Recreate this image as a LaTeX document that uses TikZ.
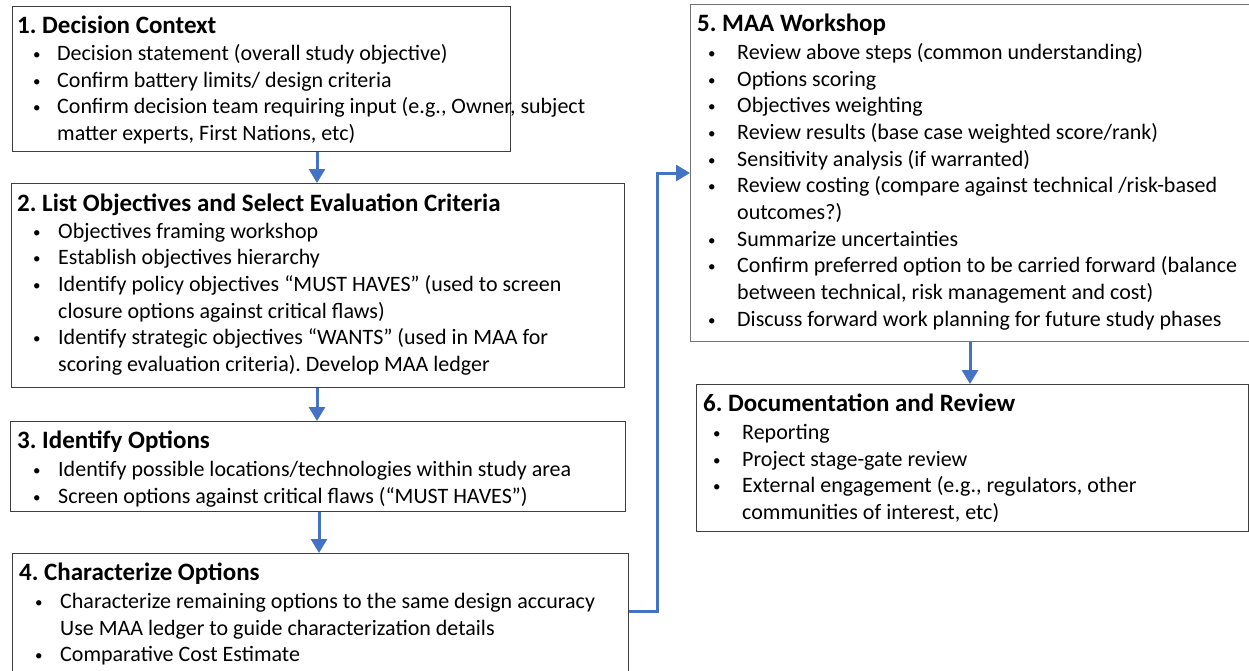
\documentclass[tikz,border=0pt]{standalone}
\usepackage{fontspec}
\setmainfont{Carlito}
\usetikzlibrary{arrows.meta}
\definecolor{arrblue}{HTML}{4472C4}
\definecolor{boxline}{HTML}{3F3F3F}
\frenchspacing
\tikzset{
  box/.style={draw=boxline, line width=1.1pt, rectangle, inner sep=0pt, anchor=north west},
  ttl/.style={anchor=base west, inner sep=0pt, font=\fontsize{25}{27}\selectfont\bfseries},
  txt/.style={anchor=base west, inner sep=0pt, font=\fontsize{22}{27}\selectfont},
  bul/.style={anchor=base west, inner sep=0pt, font=\fontsize{15}{27}\selectfont},
  arr/.style={draw=arrblue, line width=3pt, -{Triangle[width=16pt,length=14pt]}}
}
\newcommand\ttlline[4]{\node[ttl] (#1) at (#2,#3) {#4};}
\newcommand\itmline[5]{\node[bul] (#1b) at (#2,#4-1) {•}; \node[txt] (#1) at (#3,#4) {#5};}
\newcommand\cntline[4]{\node[txt] (#1) at (#2,#3) {#4};}
\begin{document}
\begin{tikzpicture}[x=1pt,y=-1pt]
\useasboundingbox (0,0) rectangle (1249,670);
% boxes
\node[box, minimum width=498pt, minimum height=145pt] (b1) at (12,6) {};
\node[box, minimum width=613pt, minimum height=204pt] (b2) at (11,183) {};
\node[box, minimum width=615pt, minimum height=90pt] (b3) at (10,421) {};
\node[box, minimum width=616pt, minimum height=130pt] (b4) at (12,553) {};
\node[box, draw=black!55, minimum width=570pt, minimum height=337pt] (b5) at (690,4) {};
\node[box, minimum width=552pt, minimum height=147pt] (b6) at (696,384) {};
% box 1
\ttlline{t1}{17}{33}{1. Decision Context}
\itmline{l1a}{33}{57}{60}{Decision statement (overall study objective)}
\itmline{l1b}{33}{57}{87}{Confirm battery limits/ design criteria}
\itmline{l1c}{33}{57}{113}{Confirm decision team requiring input (e.g., Owner, subject}
\cntline{l1d}{57}{140}{matter experts, First Nations, etc)}
% box 2
\ttlline{t2}{17}{211}{2. List Objectives and Select Evaluation Criteria}
\itmline{l2a}{33}{58}{238}{Objectives framing workshop}
\itmline{l2b}{33}{58}{264.7}{Establish objectives hierarchy}
\itmline{l2c}{33}{58}{291.4}{Identify policy objectives “MUST HAVES” (used to screen}
\cntline{l2d}{58}{318}{closure options against critical flaws)}
\itmline{l2e}{33}{58}{344.8}{Identify strategic objectives “WANTS” (used in MAA for}
\cntline{l2f}{58}{371.5}{scoring evaluation criteria). Develop MAA ledger}
% box 3
\ttlline{t3}{17}{448}{3. Identify Options}
\itmline{l3a}{33}{58}{476}{Identify possible locations/technologies within study area}
\itmline{l3b}{33}{58}{503}{Screen options against critical flaws (“MUST HAVES”)}
% box 4
\ttlline{t4}{19}{580}{4. Characterize Options}
\itmline{l4a}{35}{60}{608}{Characterize remaining options to the same design accuracy}
\cntline{l4b}{60}{635}{Use MAA ledger to guide characterization details}
\itmline{l4c}{35}{60}{661}{Comparative Cost Estimate}
% box 5
\ttlline{t5}{697}{31}{5. MAA Workshop}
\itmline{l5a}{708}{737}{59}{Review above steps (common understanding)}
\itmline{l5b}{708}{737}{86}{Options scoring}
\itmline{l5c}{708}{737}{112}{Objectives weighting}
\itmline{l5d}{708}{737}{139}{Review results (base case weighted score/rank)}
\itmline{l5e}{708}{737}{166}{Sensitivity analysis (if warranted)}
\itmline{l5f}{708}{737}{192}{Review costing (compare against technical /risk-based}
\cntline{l5g}{737}{219}{outcomes?)}
\itmline{l5h}{708}{737}{246}{Summarize uncertainties}
\itmline{l5i}{708}{737}{272}{Confirm preferred option to be carried forward (balance}
\cntline{l5j}{737}{299}{between technical, risk management and cost)}
\itmline{l5k}{708}{737}{326}{Discuss forward work planning for future study phases}
% box 6
\ttlline{t6}{703}{411}{6. Documentation and Review}
\itmline{l6a}{713}{742}{439}{Reporting}
\itmline{l6b}{713}{742}{466}{Project stage-gate review}
\itmline{l6c}{713}{742}{492}{External engagement (e.g., regulators, other}
\cntline{l6d}{742}{519}{communities of interest, etc)}
% connectors
\draw[arr] ([xshift=305pt]b1.south west) -- ([xshift=306pt]b2.north west);
\draw[arr] ([xshift=306pt]b2.south west) -- ([xshift=307pt]b3.north west);
\draw[arr] ([xshift=309pt]b3.south west) -- ([xshift=307pt]b4.north west);
\coordinate (k) at (657,173);
\draw[arr] ([yshift=-58pt]b4.north east) -| (k) -- ([yshift=-169pt]b5.north west);
\draw[arr] ([xshift=280pt]b5.south west) -- ([xshift=274pt]b6.north west);
\end{tikzpicture}
\end{document}
